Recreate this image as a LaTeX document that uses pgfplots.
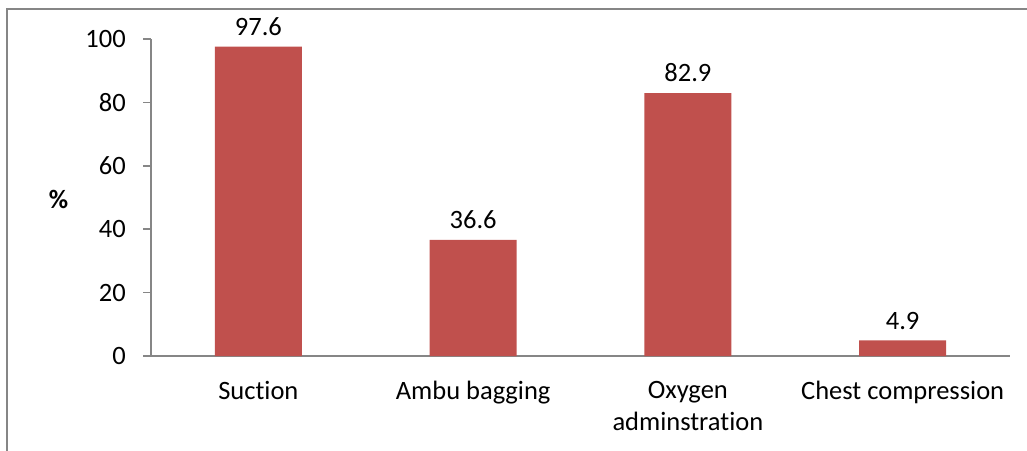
\documentclass[border=0pt]{standalone}
\usepackage{fontspec}
\setmainfont{Carlito}[Ligatures=NoCommon]
\setsansfont{Carlito}[Ligatures=NoCommon]
\usepackage{pgfplots}
\pgfplotsset{compat=1.18}
\definecolor{barred}{HTML}{C0504D}
\definecolor{axisgray}{HTML}{868686}
\newcommand\chartfont{\fontsize{13.3}{16}\selectfont}
\begin{document}
\chartfont
\begin{tikzpicture}
% page = 1027 x 451 px, 1 px = 0.5bp, y grows downward
\begin{scope}[x=0.5bp,y=-0.5bp]
  \useasboundingbox (0,0) rectangle (1027,451);
  \draw[axisgray, line width=1bp] (7,470) -- (7,9) -- (1040,9);
\end{scope}
\begin{axis}[
  at={(75.5bp,-178bp)}, anchor=south west,
  scale only axis,
  width=429.5bp, height=158.5bp,
  xmin=-0.5, xmax=3.5,
  ymin=0, ymax=100,
  axis lines*=left,
  axis line style={axisgray, line width=0.8bp},
  ytick={0,20,...,100},
  xtick={0,1,2,3},
  xticklabels={Suction, Ambu bagging, {Oxygen\\adminstration}, Chest compression},
  xtick style={draw=none},
  extra x ticks={-0.5,0.5,1.5,2.5,3.5},
  extra x tick labels={},
  extra x tick style={tick style={axisgray, line width=0.8bp}, major tick length=4bp},
  tick align=outside,
  ytick style={axisgray, line width=0.8bp},
  major tick length=4bp,
  /pgf/number format/assume math mode=true,
  tick label style={font=\chartfont, text=black},
  xticklabel style={align=center, yshift=-4bp},
  yticklabel style={xshift=-4bp},
  ylabel={\textbf{\%}},
  ylabel style={rotate=-90, font=\chartfont},
  every axis y label/.style={at={(ticklabel cs:0.5)}, anchor=center, xshift=-9bp, yshift=-1bp},
  ybar,
  bar width=0.405,
  nodes near coords={\pgfmathprintnumber[fixed,precision=1,fixed zerofill,assume math mode=true]{\pgfplotspointmeta}},
  every node near coord/.style={font=\chartfont, text=black, yshift=1bp},
]
\addplot[fill=barred, draw=none] coordinates {(0,97.6) (1,36.6) (2,82.9) (3,4.9)};
\end{axis}
\end{tikzpicture}
\end{document}
